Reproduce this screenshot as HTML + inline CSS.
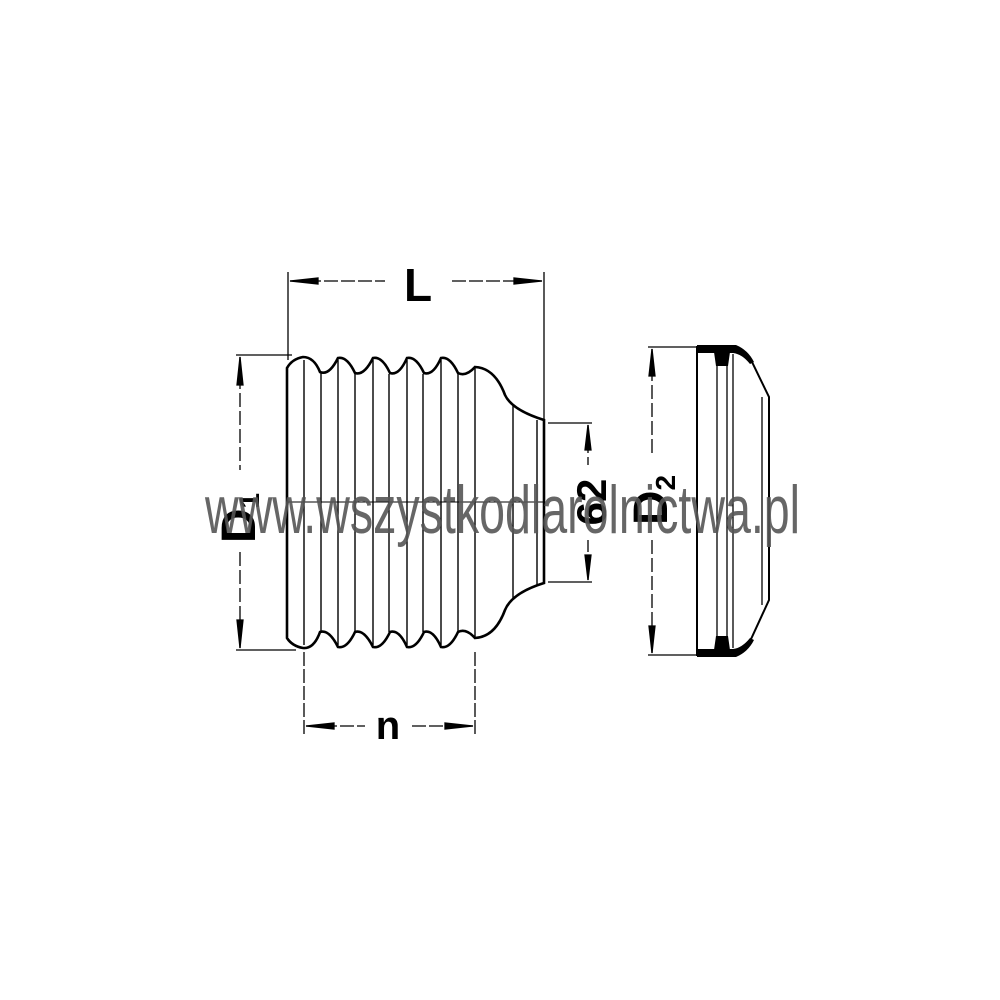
<!DOCTYPE html>
<html><head><meta charset="utf-8"><style>html,body{margin:0;padding:0;background:#fff}svg{display:block}</style></head>
<body>
<svg width="1000" height="1000" viewBox="0 0 1000 1000" xmlns="http://www.w3.org/2000/svg">
<g stroke="#000" fill="none" stroke-width="1.3">
<line x1="288" y1="272" x2="288" y2="360"/>
<line x1="544" y1="272" x2="544" y2="420"/>
<line x1="290" y1="281" x2="385" y2="281" stroke-dasharray="14,3" />
<line x1="452" y1="281" x2="542" y2="281" stroke-dasharray="14,3"/>
<path d="M290,281 L318,278 L318,284 Z M542,281 L514,278 L514,284 Z" fill="#000"/>
<line x1="236" y1="355" x2="292" y2="355"/>
<line x1="236" y1="650" x2="296" y2="650"/>
<line x1="240" y1="357" x2="240" y2="470" stroke-dasharray="14,4"/>
<line x1="240" y1="552" x2="240" y2="648" stroke-dasharray="14,4"/>
<path d="M240,357 L237,385 L243,385 Z M240,648 L237,620 L243,620 Z" fill="#000"/>
<line x1="548" y1="423" x2="592" y2="423"/>
<line x1="548" y1="582" x2="592" y2="582"/>
<line x1="588" y1="425" x2="588" y2="465" stroke-dasharray="12,4"/>
<line x1="588" y1="540" x2="588" y2="580" stroke-dasharray="12,4"/>
<path d="M588,425 L585,450 L591,450 Z M588,580 L585,555 L591,555 Z" fill="#000"/>
<line x1="304" y1="652" x2="304" y2="734" stroke-dasharray="14,3"/>
<line x1="475" y1="652" x2="475" y2="734" stroke-dasharray="14,3"/>
<line x1="306" y1="726" x2="365" y2="726" stroke-dasharray="14,3"/>
<line x1="412" y1="726" x2="473" y2="726" stroke-dasharray="14,3"/>
<path d="M306,726 L334,723 L334,729 Z M473,726 L445,723 L445,729 Z" fill="#000"/>
<path stroke-width="2.6" d="M287,368 Q292,359 303,357 Q314,357 320,372 Q329,376 338,358 Q347,356 355,373 Q364,376 373,358 Q382,356 390,373 Q399,376 407,358 Q416,356 424,373 Q433,376 441,358 Q450,356 458,373 Q466,377 475,367 Q495,368 505,395 Q512,410 544,420 L544,583 Q512,593 505,610 Q495,637 475,638 Q466,628 458,632 Q450,649 441,647 Q433,629 424,632 Q416,649 407,647 Q399,629 390,632 Q382,649 373,647 Q364,629 355,632 Q347,649 338,647 Q329,629 320,632 Q314,649 303,648 Q292,646 287,638 Z"/>
<g stroke-width="1.4">
<line x1="304" y1="360" x2="304" y2="645"/>
<line x1="321" y1="373" x2="321" y2="632"/>
<line x1="338" y1="360" x2="338" y2="645"/>
<line x1="355" y1="374" x2="355" y2="632"/>
<line x1="373" y1="360" x2="373" y2="645"/>
<line x1="389" y1="374" x2="389" y2="632"/>
<line x1="407" y1="360" x2="407" y2="645"/>
<line x1="423" y1="374" x2="423" y2="632"/>
<line x1="441" y1="360" x2="441" y2="645"/>
<line x1="458" y1="374" x2="458" y2="632"/>
<line x1="475" y1="368" x2="475" y2="638"/>
<line x1="513" y1="405" x2="513" y2="600"/>
<line x1="537" y1="420" x2="537" y2="585"/>
</g>
<line x1="287" y1="502" x2="544" y2="502" stroke-width="1"/>
<line x1="648" y1="347" x2="698" y2="347"/>
<line x1="648" y1="655" x2="698" y2="655"/>
<line x1="652" y1="349" x2="652" y2="455" stroke-dasharray="14,4"/>
<line x1="652" y1="540" x2="652" y2="653" stroke-dasharray="14,4"/>
<path d="M652,349 L649,376 L655,376 Z M652,653 L649,626 L655,626 Z" fill="#000"/>
<path stroke-width="2" d="M697,347 L735,347 Q745,350 752,362 L769,397 L769,600 L752,637 Q745,652 735,655 L697,655 Z"/>
<path fill="#000" stroke="none" d="M697,345 L736,345 Q748,350 754,362 L750,364 Q742,354 733,353 L697,353 Z M697,657 L736,657 Q748,652 754,640 L750,638 Q742,648 733,649 L697,649 Z"/>
<path fill="#000" stroke="none" d="M714,352 L730,352 L728,366 L716,366 Z M714,650 L730,650 L728,636 L716,636 Z"/>
<g stroke-width="1.3">
<line x1="717" y1="364" x2="717" y2="638"/>
<line x1="727" y1="360" x2="727" y2="642"/>
<line x1="733" y1="354" x2="733" y2="648"/>
<line x1="762" y1="397" x2="762" y2="605"/>
</g>
</g>
<g font-family="Liberation Sans, sans-serif" font-weight="bold" fill="#000">
<text x="418" y="301" font-size="46" text-anchor="middle">L</text>
<text x="388" y="739" font-size="40" text-anchor="middle">n</text>
<text transform="translate(255,518) rotate(-90)" font-size="48" text-anchor="middle">D<tspan font-size="28" dy="4">1</tspan></text>
<text transform="translate(606,502) rotate(-90)" font-size="42" text-anchor="middle">62</text>
<text transform="translate(667,500) rotate(-90)" font-size="48" text-anchor="middle">D<tspan font-size="28" dy="8">2</tspan></text>
</g>
<text x="205" y="533" font-family="Liberation Sans Narrow, Liberation Sans, sans-serif" font-size="68" fill="#555" fill-opacity="0.9" textLength="595" lengthAdjust="spacingAndGlyphs">www.wszystkodlarolnictwa.pl</text>
</svg>
</body></html>
